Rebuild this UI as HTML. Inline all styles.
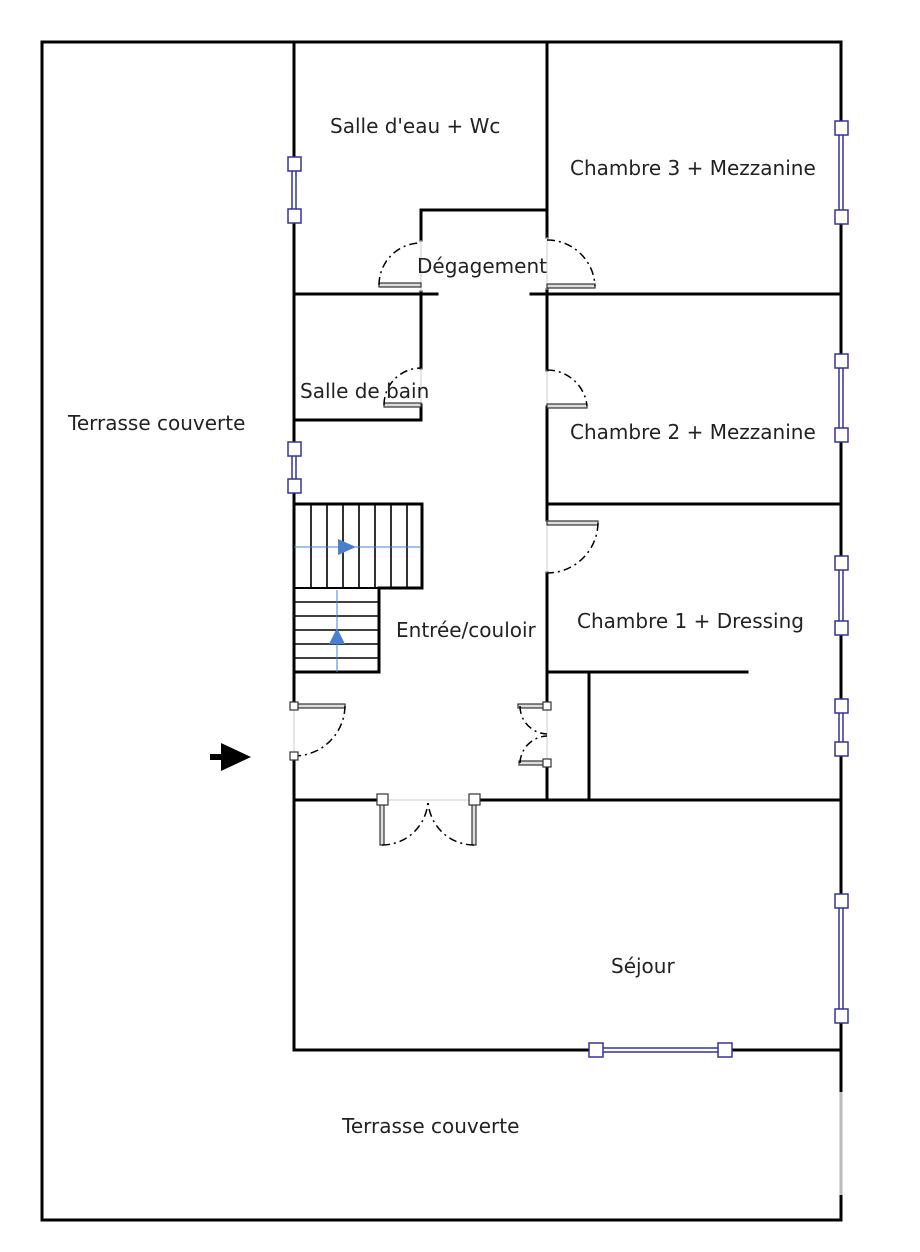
<!DOCTYPE html>
<html><head><meta charset="utf-8"><style>
html,body{margin:0;padding:0;background:#fff;}
svg{display:block;}
text{font-family:"DejaVu Sans","Liberation Sans",sans-serif;font-size:20px;fill:#222;}
</style></head><body>
<svg width="920" height="1252" viewBox="0 0 920 1252" xmlns="http://www.w3.org/2000/svg">
<g stroke="#000" stroke-width="3" fill="none" stroke-linecap="square">
<path d="M42 42 H841 V1092"/>
<path d="M841 1195 V1220 H42 V42"/>
<path d="M294 42 V700"/>
<path d="M294 762 V1050"/>
<path d="M547 42 V237"/>
<path d="M547 290 V370"/>
<path d="M547 407 V520"/>
<path d="M547 573 V704"/>
<path d="M547 765 V800"/>
<path d="M547 210 H421 V240"/>
<path d="M421 292 V368"/>
<path d="M421 405 V420 H294"/>
<path d="M294 294 H437"/>
<path d="M531 294 H841"/>
<path d="M547 504 H841"/>
<path d="M547 672 H747"/>
<path d="M589 672 V800"/>
<path d="M294 800 H382"/>
<path d="M474 800 H841"/>
<path d="M294 1050 H841"/>
</g>
<line x1="841" y1="1092" x2="841" y2="1195" stroke="#bbb" stroke-width="3"/>
<g stroke="#ccc" stroke-width="1">
<line x1="421" y1="240" x2="421" y2="292"/><line x1="547" y1="237" x2="547" y2="290"/>
<line x1="421" y1="368" x2="421" y2="405"/><line x1="547" y1="370" x2="547" y2="407"/>
<line x1="547" y1="520" x2="547" y2="573"/><line x1="294" y1="706" x2="294" y2="756"/>
<line x1="547" y1="706" x2="547" y2="763"/><line x1="382" y1="800" x2="474" y2="800"/>
</g>
<g stroke="#333" stroke-width="1.2" fill="#ddd">
<rect x="379" y="283" width="42" height="4"/>
<rect x="547" y="284" width="48" height="4"/>
<rect x="384" y="403" width="37" height="4"/>
<rect x="547" y="404" width="40" height="4"/>
<rect x="547" y="521" width="51" height="4"/>
<rect x="294" y="704" width="51" height="4"/>
<rect x="518" y="704" width="29" height="4"/>
<rect x="519" y="761" width="28" height="4"/>
<rect x="380" y="800" width="4" height="45"/>
<rect x="472" y="800" width="4" height="45"/>
</g>
<g stroke="#000" stroke-width="1.5" fill="none" stroke-dasharray="8 4 2 4">
<path d="M379 285 A42 42 0 0 1 421 243"/>
<path d="M547 240 A48 48 0 0 1 595 286"/>
<path d="M384 405 A37 37 0 0 1 421 368"/>
<path d="M547 370 A40 40 0 0 1 587 406"/>
<path d="M598 523 A51 51 0 0 1 547 573"/>
<path d="M345 706 A51 51 0 0 1 294 756"/>
<path d="M520 706 A28 28 0 0 0 547 734"/>
<path d="M520 763 A28 28 0 0 1 547 736"/>
<path d="M382 845 A46 46 0 0 0 428 800"/>
<path d="M474 845 A46 46 0 0 1 428 800"/>
</g>
<g stroke="#333" stroke-width="1.2" fill="#fff">
<rect x="290" y="702" width="8" height="8"/><rect x="290" y="752" width="8" height="8"/>
<rect x="543" y="702" width="8" height="8"/><rect x="543" y="759" width="8" height="8"/>
<rect x="377" y="794" width="11" height="11"/><rect x="469" y="794" width="11" height="11"/>
</g>
<!-- windows: white fill -->
<g fill="#fff" stroke="none">
<rect x="290" y="164" width="8" height="52"/>
<rect x="290" y="449" width="8" height="37"/>
<rect x="837" y="128" width="8" height="89"/>
<rect x="837" y="361" width="8" height="74"/>
<rect x="837" y="563" width="8" height="65"/>
<rect x="837" y="706" width="8" height="43"/>
<rect x="837" y="901" width="8" height="115"/>
<rect x="596" y="1046" width="129" height="8"/>
</g>
<g stroke="#33339a" stroke-width="1.5" fill="#fff">
<path d="M292 164 V216 M296 164 V216"/>
<path d="M292 449 V486 M296 449 V486"/>
<path d="M839 128 V217 M843 128 V217"/>
<path d="M839 361 V435 M843 361 V435"/>
<path d="M839 563 V628 M843 563 V628"/>
<path d="M839 706 V749 M843 706 V749"/>
<path d="M839 901 V1016 M843 901 V1016"/>
<path d="M596 1048 H725 M596 1052 H725"/>
<rect x="288" y="157" width="13" height="14"/><rect x="288" y="209" width="13" height="14"/>
<rect x="288" y="442" width="13" height="14"/><rect x="288" y="479" width="13" height="14"/>
<rect x="835" y="121" width="13" height="14"/><rect x="835" y="210" width="13" height="14"/>
<rect x="835" y="354" width="13" height="14"/><rect x="835" y="428" width="13" height="14"/>
<rect x="835" y="556" width="13" height="14"/><rect x="835" y="621" width="13" height="14"/>
<rect x="835" y="699" width="13" height="14"/><rect x="835" y="742" width="13" height="14"/>
<rect x="835" y="894" width="13" height="14"/><rect x="835" y="1009" width="13" height="14"/>
<rect x="589" y="1043" width="14" height="14"/><rect x="718" y="1043" width="14" height="14"/>
</g>
<g stroke="#000" fill="none">
<path d="M294 504 H422 V588 H379 V672 H294" stroke-width="3"/>
<path d="M294 588 H379" stroke-width="2"/>
<path d="M311 504V588M327 504V588M343 504V588M359 504V588M375 504V588M391 504V588M407 504V588" stroke-width="1.6"/>
<path d="M294 602H379M294 616H379M294 630H379M294 644H379M294 658H379" stroke-width="1.6"/>
</g>
<g stroke="#4a7fd0" stroke-width="1" fill="#4a7fd0">
<line x1="294" y1="547" x2="420" y2="547"/>
<line x1="337" y1="590" x2="337" y2="672"/>
<polygon points="338,539 356,547 338,555" stroke="none"/>
<polygon points="329,644 337,628 345,644" stroke="none"/>
</g>
<polygon points="210,754 221,754 221,743 251,757 221,771 221,760 210,760" fill="#000"/>
<text x="330" y="133">Salle d'eau + Wc</text>
<text x="570" y="175">Chambre 3 + Mezzanine</text>
<text x="417" y="273">Dégagement</text>
<text x="300" y="398">Salle de bain</text>
<text x="68" y="430">Terrasse couverte</text>
<text x="570" y="439">Chambre 2 + Mezzanine</text>
<text x="577" y="628">Chambre 1 + Dressing</text>
<text x="396" y="637">Entrée/couloir</text>
<text x="611" y="973">Séjour</text>
<text x="342" y="1133">Terrasse couverte</text>
</svg>
</body></html>
